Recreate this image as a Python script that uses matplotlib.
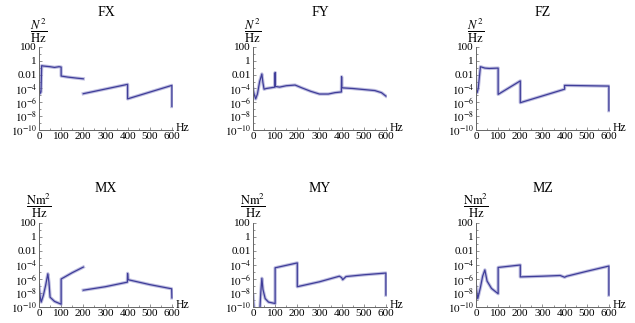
import matplotlib
matplotlib.use("Agg")
import matplotlib.pyplot as plt
import numpy as np
from matplotlib.ticker import FixedLocator, FuncFormatter, NullFormatter

plt.rcParams["font.family"] = ["Liberation Serif", "DejaVu Serif"]
plt.rcParams["mathtext.fontset"] = "stix"

nan = np.nan

# frequency knots (Hz) and log10 of the spectral density
fx_f = [0, 4, 9, 12, 20, 50, 70, 90, 100, 100, 130, 170, 200, nan, 200, 400, 400, 600, 600]
fx_v = [-3.7, -4.75, -4.5, -0.7, -0.75, -0.85, -0.95, -0.85, -0.9, -2.2, -2.35, -2.5, -2.6, nan,
        -4.75, -3.4, -5.5, -3.55, -6.6]

fy_f = [0, 5, 12, 20, 30, 40, 45, 50, 60, 80, 99, 100, 101, 120, 150, 190, 220, 260, 300, 340,
        370, 399, 400, 401, 450, 500, 550, 580, 600]
fy_v = [-4.0, -4.8, -5.5, -4.8, -3.0, -1.9, -3.2, -4.1, -4.0, -3.9, -3.8, -1.7, -3.7, -3.8, -3.6,
        -3.5, -3.9, -4.4, -4.8, -4.8, -4.6, -4.5, -2.3, -3.9, -4.0, -4.15, -4.3, -4.6, -5.1]

fz_f = [0, 5, 10, 20, 40, 60, 100, 100, 200, 200, 400, 400, 600, 600]
fz_v = [-4.2, -4.6, -4.0, -0.85, -1.05, -1.1, -1.05, -4.85, -2.9, -6.05, -4.1, -3.55, -3.65, -7.2]

mx_f = [0, 5, 10, 20, 30, 40, 45, 50, 70, 100, 100, 150, 200, nan, 200, 300, 399, 400, 402, 500,
        599, 600]
mx_v = [-6.9, -8.5, -9.3, -8.3, -6.9, -5.25, -6.5, -8.6, -9.2, -9.6, -6.0, -5.1, -4.3, nan,
        -7.6, -7.1, -6.45, -5.2, -6.1, -6.8, -7.4, -8.7]

my_f = [0, 5, 10, 30, 35, 40, 45, 55, 70, 100, 100, 200, 200, 300, 390, 400, 405, 420, 500, 600,
        600]
my_v = [-8.3, -10.5, -11, -11, -8.0, -5.9, -7.5, -8.8, -9.3, -9.5, -4.4, -3.7, -7.1, -6.4, -5.6,
        -5.8, -6.1, -5.65, -5.4, -5.15, -8.3]

mz_f = [0, 8, 20, 30, 40, 50, 70, 100, 100, 200, 200, 300, 380, 400, 410, 500, 600, 600]
mz_v = [-7.1, -8.8, -7.2, -5.6, -4.7, -6.3, -7.35, -8.1, -4.35, -4.0, -5.7, -5.6, -5.5, -5.75,
        -5.6, -4.9, -4.15, -8.3]

titles = ["FX", "FY", "FZ", "MX", "MY", "MZ"]
units = [r"$\dfrac{N^2}{\mathrm{Hz}}$"] * 3 + [r"$\dfrac{\mathrm{Nm}^2}{\mathrm{Hz}}$"] * 3
series = [(fx_f, fx_v), (fy_f, fy_v), (fz_f, fz_v), (mx_f, mx_v), (my_f, my_v), (mz_f, mz_v)]

y_ticks = [1e2, 1, 1e-2, 1e-4, 1e-6, 1e-8, 1e-10]
x_ticks = [0, 100, 200, 300, 400, 500, 600]


def ylab(v, pos):
    if v >= 1e2 * 0.99:
        return "100"
    if abs(v - 1) < 1e-6:
        return "1"
    if abs(v - 1e-2) < 1e-6:
        return "0.01"
    return r"$10^{%d}$" % round(np.log10(v))


W, H = 635, 323
fig = plt.figure(figsize=(W / 100, H / 100), dpi=100)

lefts = [39, 253, 476]
tops = [47, 223]
bottoms = [130, 307]
blue = "#3f3d99"

for i, (f, v) in enumerate(series):
    r, c = divmod(i, 3)
    x0 = lefts[c]
    ax = fig.add_axes([x0 / W, 1 - bottoms[r] / H, 134 / W, (bottoms[r] - tops[r]) / H])
    y = 10 ** np.array(v, dtype=float)
    ax.plot(f, y, color="#8b8ac8", lw=2.4, alpha=0.55)
    ax.plot(f, y, color=blue, lw=0.9)
    ax.set_yscale("log")
    ax.set_xlim(0, 605)
    ax.set_ylim(1e-10, 1e2)
    for s in ["top", "right"]:
        ax.spines[s].set_visible(False)
    for s in ["left", "bottom"]:
        ax.spines[s].set_color("#666666")
        ax.spines[s].set_linewidth(0.7)
    ax.yaxis.set_major_locator(FixedLocator(y_ticks))
    ax.yaxis.set_minor_locator(FixedLocator([10.0 ** k for k in range(-9, 2, 2)]))
    ax.yaxis.set_major_formatter(FuncFormatter(ylab))
    ax.yaxis.set_minor_formatter(NullFormatter())
    ax.xaxis.set_major_locator(FixedLocator(x_ticks))
    ax.xaxis.set_minor_locator(FixedLocator(list(range(50, 600, 100))))
    ax.tick_params(which="both", direction="in", color="#666666", width=0.5,
                   labelsize=8, pad=1.5)
    ax.tick_params(which="major", length=2.5)
    ax.tick_params(which="minor", length=1.5)
    ax.text(1.02, 0.02, "Hz", transform=ax.transAxes, ha="left", va="center", fontsize=8.5)
    ax.text(0.0, 1.03, units[i], transform=ax.transAxes, ha="center", va="bottom", fontsize=9)
    ax.set_title(titles[i], fontsize=10, pad=22)

fig.savefig("out.png", dpi=100)
